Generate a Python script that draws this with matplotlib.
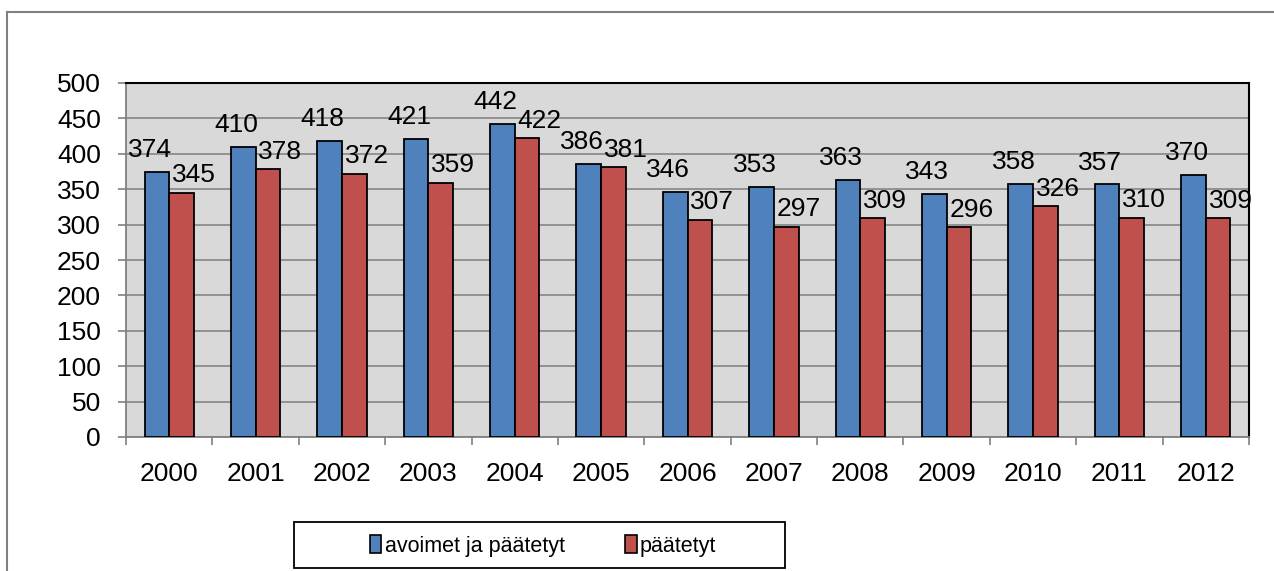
import matplotlib.pyplot as plt
import numpy as np
from matplotlib.lines import Line2D
from matplotlib.patches import Rectangle

plt.rcParams['font.family'] = ['Liberation Sans', 'DejaVu Sans']

years = ['2000', '2001', '2002', '2003', '2004', '2005', '2006',
         '2007', '2008', '2009', '2010', '2011', '2012']
avoimet = [374, 410, 418, 421, 442, 386, 346, 353, 363, 343, 358, 357, 370]
paatetyt = [345, 378, 372, 359, 422, 381, 307, 297, 309, 296, 326, 310, 309]
yticks = [0, 50, 100, 150, 200, 250, 300, 350, 400, 450, 500]

W, H = 1274, 571
fig = plt.figure(figsize=(W / 100, H / 100), dpi=100)
ax = fig.add_axes([126 / W, 1 - 437 / H, (1249 - 126) / W, (437 - 83) / H])
ax.set_facecolor('#d9d9d9')

x = np.arange(len(years))
bw = 0.285
blue = '#4f81bd'
red = '#c0504d'
ax.bar(x - bw / 2, avoimet, bw, color=blue, edgecolor='black', linewidth=1.3, zorder=3)
ax.bar(x + bw / 2, paatetyt, bw, color=red, edgecolor='black', linewidth=1.3, zorder=3)

for i in range(len(years)):
    ax.annotate(str(avoimet[i]), (x[i] - bw / 2, avoimet[i]), xytext=(-5, 7),
                textcoords='offset points', ha='center', va='bottom', fontsize=19, zorder=4)
    ax.annotate(str(paatetyt[i]), (x[i] + bw / 2, paatetyt[i]), xytext=(9, 4),
                textcoords='offset points', ha='center', va='bottom', fontsize=19, zorder=4)

ax.set_xlim(-0.5, len(years) - 0.5)
ax.set_ylim(0, 500)
ax.set_yticks(yticks)
ax.tick_params(axis='y', labelsize=19, length=6, color='#808080', width=1.2, pad=12)
ax.set_xticks(x)
ax.set_xticklabels(years)
ax.set_xticks(np.arange(-0.5, len(years), 1), minor=True)
ax.tick_params(axis='x', which='major', length=0, labelsize=19, pad=18)
ax.tick_params(axis='x', which='minor', length=6, color='#808080', width=1.2)
ax.yaxis.grid(True, color='#8c8c8c', linewidth=1.3, zorder=0)
ax.set_axisbelow(True)

for s in ['left', 'bottom']:
    ax.spines[s].set_color('#808080')
    ax.spines[s].set_linewidth(1.3)
for s in ['top', 'right']:
    ax.spines[s].set_color('black')
    ax.spines[s].set_linewidth(1.5)

# chart area border (left and top only visible)
fig.add_artist(Line2D([7 / W, 7 / W], [0, 1 - 12 / H], transform=fig.transFigure,
                      color='#808080', linewidth=1.5))
fig.add_artist(Line2D([7 / W, 1], [1 - 12 / H, 1 - 12 / H], transform=fig.transFigure,
                      color='#808080', linewidth=1.5))

# legend box
fig.add_artist(Rectangle((294 / W, 1 - 568 / H), (785 - 294) / W, (568 - 522) / H,
                         transform=fig.transFigure, facecolor='white',
                         edgecolor='black', linewidth=1.3))
handles = [Rectangle((0, 0), 1, 1, facecolor=blue, edgecolor='black', linewidth=1.2),
           Rectangle((0, 0), 1, 1, facecolor=red, edgecolor='black', linewidth=1.2)]
fig.legend(handles, ['avoimet ja päätetyt', 'päätetyt'], loc='center',
           bbox_to_anchor=(543 / W, 1 - 546 / H), ncol=2, frameon=False,
           fontsize=15.5, handlelength=0.55, handleheight=0.9, handletextpad=0.15,
           columnspacing=2.8)

fig.savefig('out.png', dpi=100)
